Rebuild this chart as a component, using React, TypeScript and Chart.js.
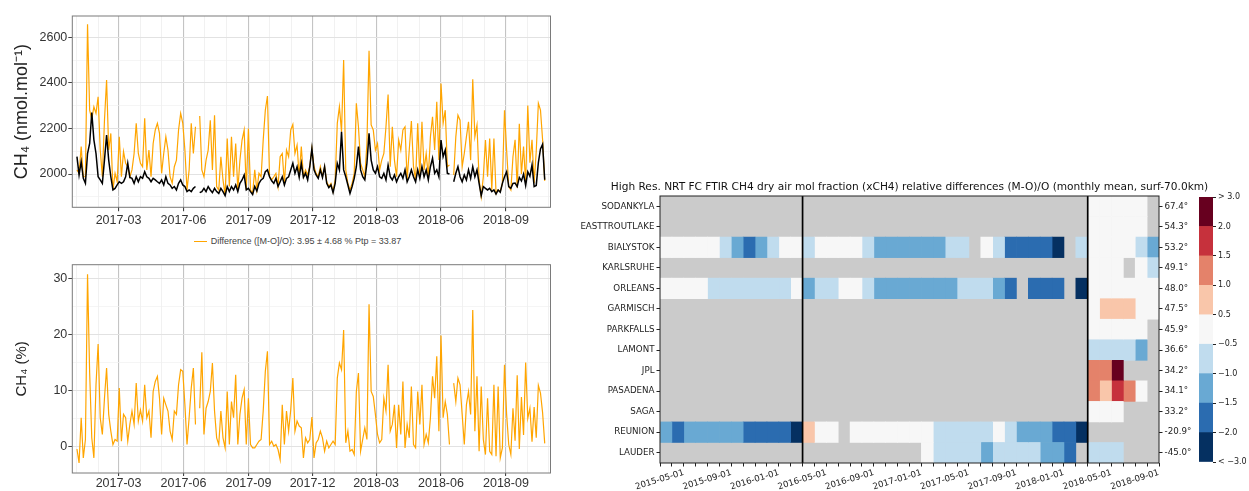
import React, { useEffect, useRef } from 'react';
import { Chart, registerables } from 'chart.js';
Chart.register(...registerables);

const _ = null;

// ---------------- Left panels: daily series sampled every 3 days ----------------
const SERIES_START = '2017-01-01';
const STEP_DAYS = 3;

const modelCH4 = [
  2018, 2003, 2120, 1988, 1988, 2657, 2280, 2240, 2295, 2266,
  2339, 2105, 1988, 2236, 2412, 2105, 2178, 1930, 2003, 1966,
  2163, 1988, 2098, 2047, 2032, 1988, 2018, 2090, 2222, 2090,
  2047, 2032, 2244, 2018, 2105, 1988, 2134, 2193, 2222, 2178,
  2003, 2090, 2163, 2105, 1988, 1959, 2032, 2061, 2193, 2266,
  2222, 2105, 1930, 2018, 2222, 2090, 2207, _, 2254, 2018,
  1988, 2061, 2105, 2236, 2018, 2258, 1945, 1930, 2076, 1974,
  1908, 2156, 1945, 2163, 1988, 2134, 1930, 2061, 2149, 2193,
  1930, 2200, 1930, 1915, 2018, 1930, 2003, 1988, 2149, 2280,
  2342, 1988, 1974, 1988, 2003, 1945, 2076, 2090, 1959, 2105,
  2076, 2193, 2217, 2090, 2127, 1988, 2120, 1988, 2018, 1996,
  2032, 2112, 2032, 2003, 1988, 2032, 1988, 2032, 1966, 1945,
  1959, 1923, 1974, 2222, 2295, 2185, 2500, 2018, 1959, 1930,
  1959, 2003, 2310, 2207, 2047, 2018, 1988, 2134, 2540, 2215,
  2193, 2105, 2134, 2018, 2061, 2090, 2207, 2349, 2032, 2207,
  2061, 1988, 2149, 2105, 2193, 2207, 1974, 2105, 2232, 2032,
  1974, 2222, 1988, 2229, 2018, 2090, 1988, 2163, 2251, 2105,
  2317, 2061, 2397, 2222, 2280, 2032, 2040, _, 1996, 2163,
  2258, 2236, 2032, 2090, 2163, 2229, 2061, 2416, 2163, 2215,
  1974, 1900, 1988, 2149, 1988, 2156, 1930, 2156, 1915, 1930,
  1923, 1959, 2280, 2105, 1945, 1930, 2076, 2150, 1940, 2220,
  2000, 2120, 1960, 2300, 2050, 2150, 1960, 2100, 2310, 2280,
  2150, 1970,
];

const obsCH4 = [
  2076, 1996, 2054, 1981, 1959, 2090, 2134, 2270, 2150, 2090,
  1988, 1974, 1959, 2061, 2171, 2061, 1988, 1930, 1937, 1952,
  1966, 1959, 1966, 1988, 2047, 1985, 1981, 1959, 1988, 1966,
  1988, 1981, 2010, 1988, 1981, 1966, 1981, 1974, 1966, 1959,
  1974, 1952, 1988, 1959, 1952, 1937, 1945, 1930, 1959, 1974,
  1952, 1945, 1923, 1930, 1923, 1937, 1945, _, 1918, 1923,
  1937, 1923, 1945, 1930, 1918, 1937, 1923, 1915, 1937, 1923,
  1905, 1945, 1923, 1945, 1930, 1952, 1923, 1959, 1974, 1996,
  1930, 1937, 1923, 1910, 1945, 1925, 1959, 1974, 1981, 2010,
  2018, 1988, 1970, 1959, 1981, 1945, 1966, 1988, 1952, 1981,
  1988, 2018, 2047, 2003, 2032, 1985, 2047, 1985, 2003, 1974,
  2032, 2112, 2018, 1996, 1981, 2018, 1985, 2032, 1959, 1940,
  1952, 1918, 1959, 2047, 2018, 2185, 2018, 1988, 1952, 1915,
  1945, 1981, 2032, 2120, 2018, 1988, 1974, 2047, 2178, 2061,
  2018, 2003, 2032, 1988, 1981, 2003, 1974, 2039, 1988, 1974,
  1996, 1966, 1988, 2003, 1981, 2018, 1966, 1988, 2018, 1988,
  1966, 2018, 1981, 2032, 1988, 2018, 1974, 2032, 2069, 2003,
  2018, 1988, 2149, 2076, 2105, 2003, 2000, _, 1966, 2003,
  2032, 1988, 1966, 1996, 1974, 2018, 1981, 2032, 1988, 2018,
  1959, 1905, 1945, 1937, 1930, 1937, 1923, 1930, 1912, 1930,
  1920, 1959, 1988, 2010, 1945, 1937, 1959, 1960, 1945, 1985,
  1970, 2000, 1950, 2010, 1990, 2040, 1945, 1950, 2050, 2110,
  2130, 1975,
];

const relDiffPct = [
  -0.5, -3.0, 5.1, -2.1, 1.2, 30.8, 13.1, 1.5, -2.1, 11.0,
  18.3, 5.1, 2.1, 8.6, 14.0, 5.7, 2.7, 0.3, 1.2, 0.9,
  10.4, 0.9, 5.7, 5.1, 0.9, 3.9, 6.3, 3.9, 11.3, 4.5,
  6.5, 4.5, 11.0, 5.1, 6.3, 1.5, 9.8, 11.6, 12.5, 8.6,
  2.1, 8.6, 7.4, 6.3, 2.7, 1.2, 6.3, 5.7, 11.0, 13.7,
  13.4, 7.4, 0.3, 5.1, 10.4, 14.0, 3.9, _, 6.8, 16.8,
  2.1, 6.8, 8.0, 9.8, 14.9, 6.3, 1.5, 0.3, 6.3, 1.5,
  -0.3, 9.8, 0.3, 8.0, 5.1, 12.8, 0.3, 5.7, 8.6, 10.1,
  0.3, 8.6, 0.3, -0.3, -0.3, 0.3, 0.9, 1.2, 6.3, 13.4,
  17.0, 0.3, 0.9, 0.0, 0.3, -0.6, -2.4, 7.4, 0.3, 6.3,
  2.7, 6.5, 12.2, 2.7, 4.5, 3.6, 3.3, -2.1, 1.5, 0.6,
  1.2, 5.2, -2.1, 0.6, 1.2, 2.7, 1.5, -0.9, 0.9, -0.3,
  0.3, 0.9, 0.3, 12.2, 14.9, 13.7, 20.8, 0.6, 2.7, -0.9,
  -0.6, -1.5, 9.8, 13.1, -0.9, 1.2, 3.3, 1.2, 25.4, 9.8,
  8.9, 5.7, 2.1, 0.6, 1.2, 8.6, 6.3, 14.6, 2.7, 3.9,
  7.4, -0.3, 7.4, 2.1, 11.6, -0.3, 3.9, 1.5, 10.7, 0.3,
  -0.3, 9.8, 3.9, 11.0, 0.3, 2.1, 0.6, 5.1, 12.5, 8.6,
  16.1, 2.7, 19.8, 5.1, 8.0, 5.7, 0.3, _, 11.3, 8.0,
  12.2, 11.0, 5.7, 0.3, 7.4, 9.8, 5.7, 24.4, 2.7, 12.5,
  -0.9, 10.7, 1.2, -1.5, 8.6, -0.9, -1.5, 11.0, -1.8, 10.7,
  -2.1, -0.3, 14.6, 5.7, 0.3, -1.5, 6.8, 1.0, 12.7, -0.5,
  8.8, 2.0, 15.0, 5.0, 6.8, 0.8, 7.0, 1.5, 10.9, 9.5,
  6.0, 0.5,
];

const LINE_X_RANGE = ['2016-12-25', '2018-11-03'];
const LINE_MONTH_TICKS = [
  '2017-01', '2017-02', '2017-03', '2017-04', '2017-05', '2017-06', '2017-07', '2017-08',
  '2017-09', '2017-10', '2017-11', '2017-12', '2018-01', '2018-02', '2018-03', '2018-04',
  '2018-05', '2018-06', '2018-07', '2018-08', '2018-09', '2018-10', '2018-11',
];
const LINE_TICK_LABELS = ['2017-03', '2017-06', '2017-09', '2017-12', '2018-03', '2018-06', '2018-09'];
const TOP_Y_TICKS = [1900, 2000, 2100, 2200, 2300, 2400, 2500, 2600];
const TOP_Y_LABELS = [2000, 2200, 2400, 2600];
const TOP_Y_RANGE = [1854, 2693];
const BOT_Y_TICKS = [0, 5, 10, 15, 20, 25, 30];
const BOT_Y_LABELS = [0, 10, 20, 30];
const BOT_Y_RANGE = [-4.8, 32.5];
const LEGEND_TEXT = 'Difference ([M-O]/O): 3.95 ± 4.68 % Ptp = 33.87';

// ---------------- Right panel: monthly heatmap ----------------
const HEAT_TITLE = 'High Res. NRT FC FTIR CH4 dry air mol fraction (xCH4) relative differences (M-O)/O (monthly mean, surf-70.0km)';
const HEAT_FIRST_MONTH = '2015-03';
const HEAT_LAST_EDGE = '2018-09';
const HEAT_TICK_LABELS = [
  '2015-05-01', '2015-09-01', '2016-01-01', '2016-05-01', '2016-09-01', '2017-01-01',
  '2017-05-01', '2017-09-01', '2018-01-01', '2018-05-01', '2018-09-01',
];
const VERSION_BREAKS = ['2016-03', '2018-03'];
const STATIONS = [
  'SODANKYLA', 'EASTTROUTLAKE', 'BIALYSTOK', 'KARLSRUHE', 'ORLEANS', 'GARMISCH', 'PARKFALLS',
  'LAMONT', 'JPL', 'PASADENA', 'SAGA', 'REUNION', 'LAUDER',
];
const LATITUDES = ['67.4°', '54.3°', '53.2°', '49.1°', '48.0°', '47.5°', '45.9°', '36.6°', '34.2°', '34.1°', '33.2°', '-20.9°', '-45.0°'];

const sodankyla = [_, _, _, _, _, _, _, _, _, _, _, _, _, _, _, _, _, _, _, _, _, _, _, _, _, _, _, _, _, _, _, _, _, _, _, _, 0, 0, 0, 0, 0, _];
const easttroutlake = [_, _, _, _, _, _, _, _, _, _, _, _, _, _, _, _, _, _, _, _, _, _, _, _, _, _, _, _, _, _, _, _, _, _, _, _, 0, 0, 0, 0, 0, _];
const bialystok = [0, 0, 0, 0, 0, -0.8, -1.2, -1.7, -1.2, -0.8, 0, 0, -0.8, 0, 0, 0, 0, -0.8, -1.2, -1.2, -1.2, -1.2, -1.2, -1.2, -0.8, -0.8, _, 0, -0.8, -1.7, -1.7, -1.7, -1.7, -2.6, _, -0.8, 0, 0, 0, 0, -0.8, -1.2];
const karlsruhe = [_, _, _, _, _, _, _, _, _, _, _, _, _, _, _, _, _, _, _, _, _, _, _, _, _, _, _, _, _, _, _, _, _, _, _, _, 0, 0, 0, _, 0, -0.8];
const orleans = [0, 0, 0, 0, -0.8, -0.8, -0.8, -0.8, -0.8, -0.8, -0.8, 0, -1.2, -0.8, -0.8, 0, 0, -0.8, -1.2, -1.2, -1.2, -1.2, -1.2, -1.2, -1.2, -0.8, -0.8, -0.8, -1.2, -1.7, _, -1.7, -1.7, -1.7, _, -2.6, 0, 0, 0, 0, 0, 0];
const garmisch = [_, _, _, _, _, _, _, _, _, _, _, _, _, _, _, _, _, _, _, _, _, _, _, _, _, _, _, _, _, _, _, _, _, _, _, _, 0, 0.8, 0.8, 0.8, 0, 0];
const parkfalls = [_, _, _, _, _, _, _, _, _, _, _, _, _, _, _, _, _, _, _, _, _, _, _, _, _, _, _, _, _, _, _, _, _, _, _, _, 0, 0, 0, 0, 0, _];
const lamont = [_, _, _, _, _, _, _, _, _, _, _, _, _, _, _, _, _, _, _, _, _, _, _, _, _, _, _, _, _, _, _, _, _, _, _, _, -0.8, -0.8, -0.8, -0.8, -1.2, _];
const jpl = [_, _, _, _, _, _, _, _, _, _, _, _, _, _, _, _, _, _, _, _, _, _, _, _, _, _, _, _, _, _, _, _, _, _, _, _, 1.3, 1.3, 2.6, _, _, _];
const pasadena = [_, _, _, _, _, _, _, _, _, _, _, _, _, _, _, _, _, _, _, _, _, _, _, _, _, _, _, _, _, _, _, _, _, _, _, _, 1.3, 0.8, 1.8, 1.3, 0, _];
const saga = [_, _, _, _, _, _, _, _, _, _, _, _, _, _, _, _, _, _, _, _, _, _, _, _, _, _, _, _, _, _, _, _, _, _, _, _, 0, 0, 0, _, _, _];
const reunion = [-1.2, -1.7, -1.2, -1.2, -1.2, -1.2, -1.2, -1.7, -1.7, -1.7, -1.7, -2.6, 0.8, 0, 0, _, 0, 0, 0, 0, 0, 0, 0, -0.8, -0.8, -0.8, -0.8, -0.8, 0, -0.8, -1.2, -1.2, -1.2, -1.7, -1.7, -2.6, _, _, _, _, _, _];
const lauder = [_, _, _, _, _, _, _, _, _, _, _, _, _, _, _, _, _, _, _, _, _, _, 0, -0.8, -0.8, -0.8, -0.8, -1.2, -0.8, -0.8, -0.8, -0.8, -1.2, -1.2, -1.7, _, -0.8, -0.8, -0.8, _, _, _];
const HEAT_ROWS = [sodankyla, easttroutlake, bialystok, karlsruhe, orleans, garmisch, parkfalls, lamont, jpl, pasadena, saga, reunion, lauder];

const BIN_EDGES = [-3, -2, -1.5, -1, -0.5, 0.5, 1, 1.5, 2, 3];
const BIN_COLORS = ['#053061', '#2b6cb0', '#69a9d3', '#c0dcee', '#f7f7f7', '#f9c6aa', '#e4826a', '#c6313c', '#67001f'];
const CB_LABELS = ['< −3.0', '−2.0', '−1.5', '−1.0', '−0.5', '0.5', '1.0', '1.5', '2.0', '> 3.0'];
const NODATA_COLOR = '#cbcbcb';

// ---------------- helpers ----------------
const DAY = 86400000;
const parseYMD = (s: string) => {
  const [y, m, d] = s.split('-').map(Number);
  return Date.UTC(y, (m || 1) - 1, d || 1);
};
const dayOffset = (s: string) => (parseYMD(s) - parseYMD(SERIES_START)) / DAY;
const monthIndex = (s: string) => {
  const [y, m] = s.split('-').map(Number);
  const [y0, m0] = HEAT_FIRST_MONTH.split('-').map(Number);
  return (y - y0) * 12 + (m - m0);
};
const colorFor = (v: number) => {
  for (let i = 0; i < BIN_COLORS.length; i++) if (v < BIN_EDGES[i + 1]) return BIN_COLORS[i];
  return BIN_COLORS[BIN_COLORS.length - 1];
};
const toPoints = (arr: (number | null)[]) => arr.map((v, i) => ({ x: i * STEP_DAYS, y: v }));

const SANS = "'Liberation Sans', Arial, sans-serif";
const DEJAVU = "'DejaVu Sans', sans-serif";

const framePlugin = {
  id: 'frame',
  afterDatasetsDraw(chart: any, _args: any, opts: any) {
    const { ctx, chartArea: a } = chart;
    ctx.save();
    ctx.strokeStyle = opts.color || '#000';
    ctx.lineWidth = opts.width || 1;
    ctx.strokeRect(a.left, a.top, a.right - a.left, a.bottom - a.top);
    ctx.restore();
  },
};

function lineConfig(kind: 'top' | 'bottom') {
  const isTop = kind === 'top';
  const yTicks = isTop ? TOP_Y_TICKS : BOT_Y_TICKS;
  const yLabels = isTop ? TOP_Y_LABELS : BOT_Y_LABELS;
  const yRange = isTop ? TOP_Y_RANGE : BOT_Y_RANGE;
  const isMajorX = (ctx: any) => LINE_TICK_LABELS.includes(LINE_MONTH_TICKS[ctx.index]);
  const isMajorY = (ctx: any) => ctx.tick && yLabels.includes(ctx.tick.value);
  const datasets: any[] = isTop
    ? [
        { data: toPoints(obsCH4), borderColor: '#000000', borderWidth: 1.5, order: 0 },
        { data: toPoints(modelCH4), borderColor: '#FFA500', borderWidth: 1.2, order: 1 },
      ]
    : [{ data: toPoints(relDiffPct), borderColor: '#FFA500', borderWidth: 1.2 }];
  return {
    type: 'line',
    data: { datasets },
    options: {
      responsive: false,
      animation: false,
      devicePixelRatio: 1,
      events: [],
      layout: { padding: { top: isTop ? 16 : 14.7, right: 14.5, left: 0, bottom: 0 } },
      elements: { point: { radius: 0 }, line: { tension: 0 } },
      plugins: { legend: { display: false }, tooltip: { enabled: false }, frame: { color: '#7a7a7a', width: 1 } },
      scales: {
        x: {
          type: 'linear',
          min: dayOffset(LINE_X_RANGE[0]) + 0.4,
          max: dayOffset(LINE_X_RANGE[1]) + 0.2,
          afterBuildTicks: (s: any) => {
            s.ticks = LINE_MONTH_TICKS.map((m) => ({ value: dayOffset(m + '-01') }));
          },
          afterFit: (s: any) => {
            s.height = isTop ? 24.7 : 18;
          },
          ticks: {
            autoSkip: false,
            maxRotation: 0,
            minRotation: 0,
            padding: isTop ? 2 : 0,
            color: '#333',
            font: { family: SANS, size: 12.5 },
            callback: (_v: any, i: number) => (LINE_TICK_LABELS.includes(LINE_MONTH_TICKS[i]) ? LINE_MONTH_TICKS[i] : ''),
          },
          grid: {
            color: (ctx: any) => (isMajorX(ctx) ? '#c4c4c4' : '#ebebeb'),
            lineWidth: (ctx: any) => (isMajorX(ctx) ? 1.1 : 0.7),
            tickColor: (ctx: any) => (isMajorX(ctx) ? '#444' : 'rgba(0,0,0,0)'),
            tickLength: isTop ? 4 : 3,
          },
          border: { display: false },
        },
        y: {
          type: 'linear',
          min: yRange[0],
          max: yRange[1],
          afterBuildTicks: (s: any) => {
            s.ticks = yTicks.map((v) => ({ value: v }));
          },
          afterFit: (s: any) => {
            s.width = 72.3;
          },
          ticks: {
            color: '#333',
            padding: 1,
            font: { family: SANS, size: 12.5 },
            callback: (v: any) => (yLabels.includes(v) ? String(v) : ''),
          },
          grid: {
            color: (ctx: any) => (isMajorY(ctx) ? '#e2e2e2' : '#f0f0f0'),
            lineWidth: (ctx: any) => (isMajorY(ctx) ? 1 : 0.7),
            tickColor: (ctx: any) => (isMajorY(ctx) ? '#444' : 'rgba(0,0,0,0)'),
            tickLength: 4,
          },
          border: { display: false },
          title: {
            display: true,
            text: isTop ? 'CH₄ (nmol.mol⁻¹)' : 'CH₄ (%)',
            color: '#222',
            font: { family: SANS, size: isTop ? 18 : 15 },
            padding: { top: isTop ? 11 : 13, bottom: 0 },
          },
        },
      },
    },
    plugins: [framePlugin],
  };
}

const heatPlugin = {
  id: 'heatDecor',
  beforeDatasetsDraw(chart: any) {
    const { ctx, chartArea: a } = chart;
    ctx.save();
    ctx.fillStyle = NODATA_COLOR;
    ctx.fillRect(a.left, a.top, a.right - a.left, a.bottom - a.top);
    ctx.restore();
  },
  afterDatasetsDraw(chart: any) {
    const { ctx, chartArea: a, scales } = chart;
    ctx.save();
    ctx.strokeStyle = '#000';
    ctx.lineWidth = 1.7;
    VERSION_BREAKS.forEach((b) => {
      const x = scales.x.getPixelForValue(monthIndex(b));
      ctx.beginPath();
      ctx.moveTo(x, a.top);
      ctx.lineTo(x, a.bottom);
      ctx.stroke();
    });
    ctx.lineWidth = 1;
    ctx.strokeStyle = '#222';
    ctx.strokeRect(a.left, a.top, a.right - a.left, a.bottom - a.top);
    ctx.fillStyle = '#111';
    ctx.font = `10.6px ${DEJAVU}`;
    ctx.textAlign = 'center';
    ctx.textBaseline = 'alphabetic';
    ctx.fillText(HEAT_TITLE, (a.left + a.right) / 2, a.top - 6);
    ctx.restore();
  },
};

function heatConfig() {
  const nMonths = HEAT_ROWS[0].length;
  const datasets = Array.from({ length: nMonths }, (_u, m) => ({
    data: HEAT_ROWS.map((row) => (row[m] == null ? null : [m, m + 1])),
    backgroundColor: HEAT_ROWS.map((row) => (row[m] == null ? 'rgba(0,0,0,0)' : colorFor(row[m] as number))),
    borderWidth: 0,
    grouped: false,
    barPercentage: 1,
    categoryPercentage: 1,
  }));
  const tickFont = { family: DEJAVU, size: 8.7 };
  const tickMonths = Array.from({ length: monthIndex(HEAT_LAST_EDGE) + 1 }, (_u, i) => i);
  return {
    type: 'bar',
    data: { labels: STATIONS, datasets },
    options: {
      indexAxis: 'y',
      responsive: false,
      animation: false,
      devicePixelRatio: 1,
      events: [],
      layout: { padding: { top: 21, left: 0, right: 0, bottom: 0 } },
      plugins: { legend: { display: false }, tooltip: { enabled: false } },
      scales: {
        x: {
          type: 'linear',
          min: 0,
          max: monthIndex(HEAT_LAST_EDGE),
          afterBuildTicks: (s: any) => {
            s.ticks = tickMonths.map((v) => ({ value: v }));
          },
          afterFit: (s: any) => {
            s.height = 28;
          },
          ticks: {
            autoSkip: false,
            minRotation: 17,
            maxRotation: 17,
            padding: 1,
            color: '#222',
            font: tickFont,
            callback: (v: any) => {
              const lab = HEAT_TICK_LABELS.find((t) => monthIndex(t) === v);
              return lab || '';
            },
          },
          grid: { drawOnChartArea: false, tickLength: 3.5, tickColor: '#222' },
          border: { display: false },
        },
        y: {
          type: 'category',
          position: 'left',
          offset: true,
          afterFit: (s: any) => {
            s.width = 100;
          },
          ticks: { color: '#222', font: tickFont, padding: 2 },
          grid: { offset: false, drawOnChartArea: false, tickLength: 3.5, tickColor: '#222' },
          border: { display: false },
        },
        y2: {
          type: 'category',
          labels: LATITUDES,
          position: 'right',
          offset: true,
          afterFit: (s: any) => {
            s.width = 61;
          },
          ticks: { color: '#222', font: tickFont, padding: 2 },
          grid: { offset: false, drawOnChartArea: false, tickLength: 3.5, tickColor: '#222' },
          border: { display: false },
        },
      },
    },
    plugins: [heatPlugin],
  };
}

function colorbarConfig() {
  return {
    type: 'bar',
    data: {
      labels: ['bins'],
      datasets: BIN_COLORS.map((c) => ({
        data: [1],
        backgroundColor: c,
        borderWidth: 0,
        barPercentage: 1,
        categoryPercentage: 1,
      })),
    },
    options: {
      responsive: false,
      animation: false,
      devicePixelRatio: 1,
      events: [],
      layout: { padding: { left: 9, top: 7, bottom: 8, right: 0 } },
      plugins: { legend: { display: false }, tooltip: { enabled: false } },
      scales: {
        x: { display: false, stacked: true },
        y: {
          stacked: true,
          position: 'right',
          min: 0,
          max: BIN_COLORS.length,
          afterBuildTicks: (s: any) => {
            s.ticks = CB_LABELS.map((_l, i) => ({ value: i }));
          },
          afterFit: (s: any) => {
            s.width = 36;
          },
          ticks: {
            color: '#222',
            padding: 2,
            font: { family: DEJAVU, size: 8 },
            callback: (_v: any, i: number) => CB_LABELS[i],
          },
          grid: { drawOnChartArea: false, tickLength: 3, tickColor: '#222' },
          border: { display: false },
        },
      },
    },
  };
}

function ChartCanvas({ make, left, top, width, height }: any) {
  const ref = useRef<HTMLCanvasElement>(null);
  useEffect(() => {
    const chart = new Chart(ref.current as HTMLCanvasElement, make());
    return () => chart.destroy();
  }, []);
  return (
    <canvas
      ref={ref}
      width={width}
      height={height}
      style={{ position: 'absolute', left, top, width, height }}
    />
  );
}

export default function App() {
  return (
    <div style={{ position: 'fixed', left: 0, top: 0, width: 1249, height: 491, background: '#fff', overflow: 'hidden' }}>
      <ChartCanvas make={() => lineConfig('top')} left={0} top={0} width={565} height={232} />
      <div
        style={{
          position: 'absolute',
          left: 58,
          top: 235,
          width: 479,
          height: 12,
          lineHeight: '12px',
          textAlign: 'center',
          fontFamily: SANS,
          fontSize: 9,
          color: '#444',
          whiteSpace: 'nowrap',
        }}
      >
        <span
          style={{
            display: 'inline-block',
            width: 13,
            height: 1.5,
            background: '#FFA500',
            verticalAlign: 'middle',
            marginRight: 4,
          }}
        />
        {LEGEND_TEXT}
      </div>
      <ChartCanvas make={() => lineConfig('bottom')} left={0} top={250} width={565} height={241} />
      <ChartCanvas make={heatConfig} left={560} top={175} width={660} height={316} />
      <ChartCanvas make={colorbarConfig} left={1190} top={190} width={59} height={280} />
    </div>
  );
}
